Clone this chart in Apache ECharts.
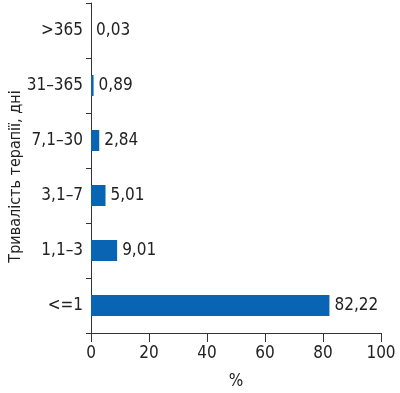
<!DOCTYPE html>
<html><head><meta charset="utf-8">
<script src="https://cdn.jsdelivr.net/npm/echarts@6/dist/echarts.min.js"></script>
<style>html,body{margin:0;padding:0;background:#fff}#c{width:400px;height:393px}</style>
</head><body><div id="c"></div>
<script>
const categories = ['<=1', '1,1–3', '3,1–7', '7,1–30', '31–365', '>365'];
const values = [82.22, 9.01, 5.01, 2.84, 0.89, 0.03];
const xTicks = [0, 20, 40, 60, 80, 100];
const yAxisName = 'Тривалість терапії, дні';
const xAxisName = '%';

const FONT = '"DejaVu Sans Condensed", "Liberation Sans", sans-serif';
const chart = echarts.init(document.getElementById('c'), null, {renderer: 'canvas'});
chart.setOption({
  animation: false,
  textStyle: {fontFamily: FONT},
  grid: {left: 91, right: 19, top: 3, bottom: 60, containLabel: false, outerBoundsMode: 'none'},
  xAxis: {
    type: 'value', min: xTicks[0], max: xTicks[xTicks.length - 1], interval: 20,
    name: xAxisName, nameLocation: 'middle', nameGap: 40, nameMoveOverlap: false,
    nameTextStyle: {fontFamily: FONT, fontSize: 17, color: '#222'},
    axisLine: {show: true, lineStyle: {color: '#333', width: 1}},
    axisTick: {show: true, length: 9, lineStyle: {color: '#333'}},
    axisLabel: {fontFamily: FONT, fontSize: 17, color: '#222', margin: 12, showMaxLabel: true},
    splitLine: {show: false}
  },
  yAxis: {
    type: 'category', data: categories,
    name: yAxisName, nameLocation: 'middle', nameGap: 67, nameRotate: 90, nameMoveOverlap: false,
    nameTextStyle: {fontFamily: FONT, fontSize: 16, color: '#222', padding: [0, 17, 0, 0]},
    axisLine: {show: true, lineStyle: {color: '#333', width: 1}},
    axisTick: {show: true, length: 5, lineStyle: {color: '#333'}},
    axisLabel: {fontFamily: FONT, fontSize: 17, color: '#222', margin: 8},
    splitLine: {show: false}
  },
  series: [{
    type: 'bar', data: values, barWidth: 21,
    itemStyle: {color: '#0a64b4'},
    label: {
      show: true, position: 'right', distance: 5,
      fontFamily: FONT, fontSize: 17, color: '#222',
      formatter: p => p.value.toFixed(2).replace('.', ',')
    }
  }]
});
</script></body></html>
